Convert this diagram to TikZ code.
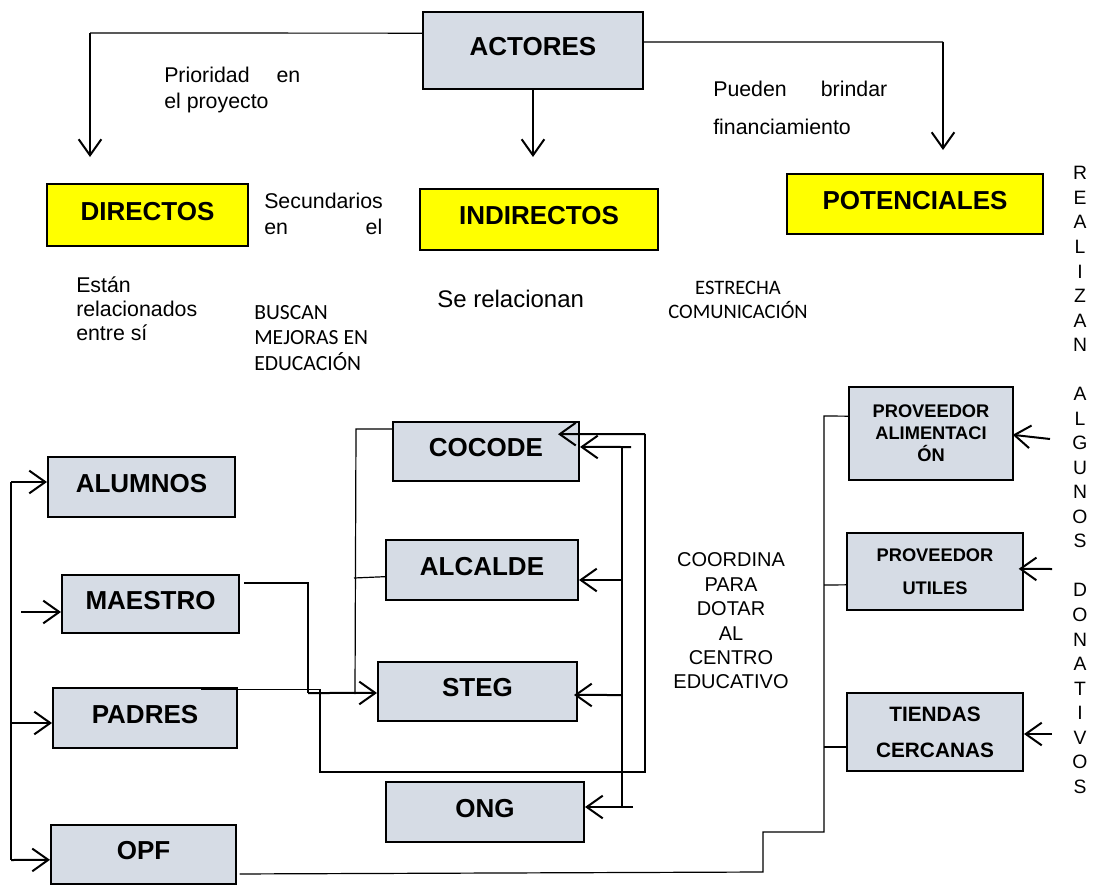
\documentclass[tikz,border=0pt]{standalone}
\usepackage{fontspec}
\setmainfont{Liberation Sans}
\newfontfamily\calib{Carlito}
\usetikzlibrary{arrows.meta}

\definecolor{boxgrey}{RGB}{214,220,229}
\definecolor{boxyellow}{RGB}{255,255,0}

\tikzset{
  box/.style={draw, line width=1.5pt, fill=boxgrey, inner sep=0pt,
    font=\bfseries\fontsize{19.5}{23}\selectfont, text height=14pt, text depth=6pt},
  ybox/.style={box, fill=boxyellow},
  sbox/.style={draw, line width=1.5pt, fill=boxgrey, inner sep=0pt, align=center},
  txt/.style={inner sep=0pt, font=\fontsize{16}{20}\selectfont, align=left},
  link/.style={line width=0.9pt},
  arr/.style={line width=1.5pt, -{Straight Barb[length=12pt,width=17pt]}},
}

\begin{document}
\begin{tikzpicture}[x=0.75pt,y=-0.75pt]
    \path[use as bounding box, fill=white] (0,0) rectangle (1095,885);

    % boxes
    \node[box, minimum width=165pt, minimum height=57.75pt] (actores) at (533,50.5) {ACTORES};
    \node[ybox, minimum width=150.75pt, minimum height=46.5pt] (directos) at (147.5,215) {DIRECTOS};
    \node[ybox, minimum width=178.5pt, minimum height=45.75pt] (indirectos) at (539,219.5) {INDIRECTOS};
    \node[ybox, minimum width=192pt, minimum height=45pt] (potenciales) at (915,204) {POTENCIALES};

    \node[box, minimum width=140.25pt, minimum height=45pt] (alumnos) at (141.5,487) {ALUMNOS};
    \node[box, minimum width=132.75pt, minimum height=43.5pt] (maestro) at (150.5,604) {MAESTRO};
    \node[box, minimum width=138pt, minimum height=45pt] (padres) at (145,718) {PADRES};
    \node[box, minimum width=138.75pt, minimum height=44.25pt] (opf) at (143.5,854.5) {OPF};

    \node[box, minimum width=139.5pt, minimum height=44.25pt] (cocode) at (486,451.5) {COCODE};
    \node[box, minimum width=144pt, minimum height=45pt] (alcalde) at (482,570) {ALCALDE};
    \node[box, minimum width=149.25pt, minimum height=44.25pt] (steg) at (477.5,691.5) {STEG};
    \node[box, minimum width=148.5pt, minimum height=45pt] (ong) at (485,812) {ONG};

    \node[sbox, minimum width=123pt, minimum height=69.75pt,
      font=\bfseries\fontsize{13.7}{16.5}\selectfont] (provalim) at (931,433.5) {PROVEEDOR\\ALIMENTACI\\ÓN};
    \node[sbox, minimum width=132pt, minimum height=57.75pt,
      font=\bfseries\fontsize{13.7}{24.75}\selectfont] (provutil) at (935,571.5) {PROVEEDOR\\UTILES};
    \node[sbox, minimum width=132pt, minimum height=58.5pt,
      font=\bfseries\fontsize{15.6}{27}\selectfont] (tiendas) at (935,732) {TIENDAS\\CERCANAS};

    % texts
    \node[txt, anchor=west, font=\fontsize{16}{19}\selectfont] (prior) at (164,90) {\makebox[102pt]{Prioridad\hfill en}\\el proyecto};
    \node[txt, anchor=west, font=\fontsize{16}{29}\selectfont] (pueden) at (713,108) {\makebox[130.5pt]{Pueden\hfill brindar}\\financiamiento};
    \node[txt, anchor=west] (secund) at (264,214) {Secundarios\\\makebox[88.5pt]{en\hfill el}};
    \node[txt, anchor=west, font=\fontsize{16}{18}\selectfont] (estan) at (76,309) {Están\\relacionados\\entre sí};
    \node[txt, anchor=west, font=\calib\fontsize{16.2}{19}\selectfont] (buscan) at (254,338) {BUSCAN\\MEJORAS EN\\EDUCACIÓN};
    \node[txt, anchor=west, font=\fontsize{18}{20}\selectfont] (serel) at (437,299) {Se relacionan};
    \node[txt, align=center, font=\calib\fontsize{15.4}{18.5}\selectfont] (estrecha) at (738,300) {ESTRECHA\\COMUNICACIÓN};
    \node[txt, align=center, font=\fontsize{15}{18.3}\selectfont] (coordina) at (731,621) {COORDINA\\PARA\\DOTAR\\AL\\CENTRO\\EDUCATIVO};
    \node[txt, align=center, font=\fontsize{14.5}{18.4}\selectfont] (realizan) at (1080,480)
      {R\\E\\A\\L\\I\\Z\\A\\N\\~\\A\\L\\G\\U\\N\\O\\S\\~\\D\\O\\N\\A\\T\\I\\V\\O\\S};

    % actores a los tres grupos
    \coordinate (ldir) at (90,33);
    \coordinate (tdir) at (90,157);
    \coordinate (tind) at (533,157);
    \coordinate (rpot) at (943,42);
    \coordinate (tpot) at (943,150);
    \draw[link] ([yshift=13pt]actores.west) -- (ldir);
    \draw[arr] (ldir) -- (tdir);
    \draw[arr] (actores.south) -- (tind);
    \draw[link] ([yshift=6.4pt]actores.east) -- (rpot);
    \draw[arr] (rpot) -- (tpot);

    % directos
    \coordinate (ltop) at (11,482);
    \coordinate (lmae) at (21,612);
    \coordinate (lmid) at (11,723);
    \coordinate (lbot) at (11,860);
    \draw[link] (ltop) -- (lbot);
    \draw[arr] (ltop) -- ([yshift=3.75pt]alumnos.west);
    \draw[arr] (lmae) -- ([yshift=-6pt]maestro.west);
    \draw[arr] (lmid) -- ([yshift=-3.75pt]padres.west);
    \draw[arr] (lbot) -- ([yshift=-4pt]opf.west);

    % maestro y padres hacia indirectos
    \coordinate (mj) at (308,693);
    \draw[line width=1.8pt] ([xshift=3pt,yshift=15.75pt]maestro.east) -| (mj);
    \draw[arr] (mj) -- ([yshift=-1.1pt]steg.west);
    \coordinate (p2) at (320,772);
    \coordinate (p4) at (645,434);
    \draw[link] ([xshift=42pt,yshift=-2pt]padres.north) -| (p2) -| (p4);
    \draw[arr] (p4) -- ([xshift=-16.5pt,yshift=13pt]cocode.east);

    % indirectos entre si
    \coordinate (b1) at (356,429);
    \coordinate (b2) at (355,694);
    \coordinate (b3) at (354,578);
    \draw[link] ([yshift=16.9pt]cocode.west) -- (b1) -- (b2);
    \draw[link] ([yshift=-5pt]alcalde.west) -- (b3);

    \coordinate (f1) at (631,447);
    \coordinate (f2) at (622,447);
    \coordinate (f3) at (622,807);
    \coordinate (f4) at (633,807);
    \coordinate (f5) at (622,580);
    \coordinate (f6) at (622,695);
    \draw[link] (f2) -- (f3);
    \draw[arr] (f1) -- ([yshift=3.4pt]cocode.east);
    \draw[arr] (f5) -- ([yshift=-7.5pt]alcalde.east);
    \draw[arr] (f6) -- ([xshift=-3pt,yshift=-2.6pt]steg.east);
    \draw[arr] (f4) -- ([yshift=3.75pt]ong.east);

    % opf hacia potenciales
    \coordinate (o1) at (763,872);
    \coordinate (o2) at (824,832);
    \coordinate (o3) at (824,416);
    \coordinate (o4) at (824,585);
    \coordinate (o5) at (824,747);
    \draw[link] ([xshift=2pt,yshift=-14.6pt]opf.east) -- (o1) |- (o2) -- (o3) -- ([yshift=13pt]provalim.west);
    \draw[link] (o4) -- ([yshift=-10pt]provutil.west);
    \draw[link] (o5) -- ([yshift=-11.25pt]tiendas.west);

    % donativos
    \coordinate (r1) at (1050,439);
    \coordinate (r2) at (1052,569);
    \coordinate (r3) at (1052,734);
    \draw[arr] (r1) -- ([xshift=-1pt,yshift=-1pt]provalim.east);
    \draw[arr] (r2) -- ([xshift=-4pt,yshift=2pt]provutil.east);
    \draw[arr] (r3) -- ([yshift=-1.5pt]tiendas.east);
\end{tikzpicture}
\end{document}
